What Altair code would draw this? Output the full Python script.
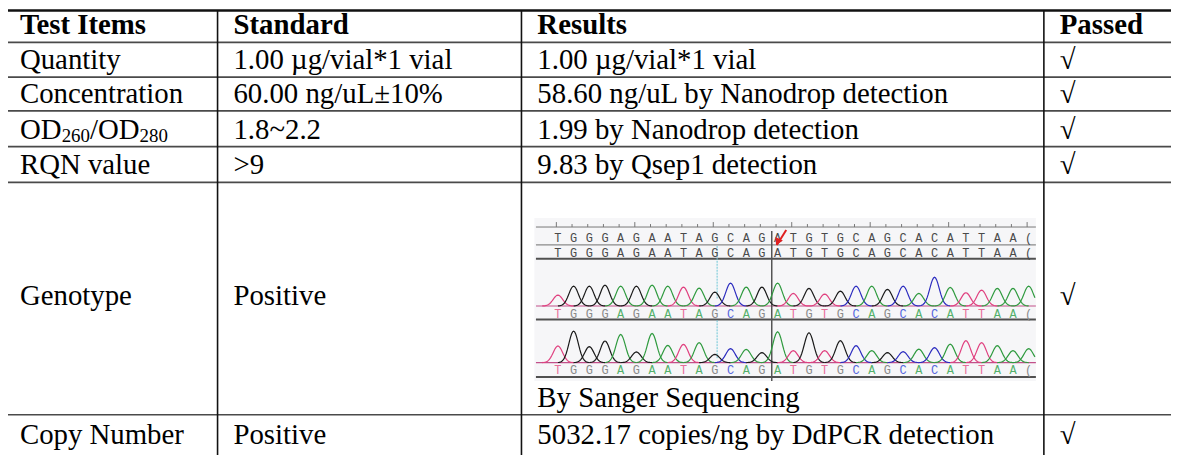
import altair as alt
import pandas as pd
import numpy as np

# ------------------------------------------------------------------ data
HEADERS = ["Test Items", "Standard", "Results", "Passed"]
TEST_ITEMS = ["Quantity", "Concentration", "OD260/OD280", "RQN value", "Genotype", "Copy Number"]
STANDARDS = ["1.00 µg/vial*1 vial", "60.00 ng/uL±10%", "1.8~2.2", ">9", "Positive", "Positive"]
RESULTS = ["1.00 µg/vial*1 vial", "58.60 ng/uL by Nanodrop detection",
           "1.99 by Nanodrop detection", "9.83 by Qsep1 detection",
           "By Sanger Sequencing", "5032.17 copies/ng by DdPCR detection"]
PASSED = ["√", "√", "√", "√", "√", "√"]
OD_PARTS = ["OD", "260", "/OD", "280"]

# Sanger chromatogram
REFERENCE_SEQ = list("TGGGAGAATAGCAGATGTGCAGCACATTAA")
SAMPLE_SEQ = list("TGGGAGAATAGCAGATGTGCAGCACATTAA")
TRACE_1 = [11, 20, 20, 21, 20, 20, 21, 20, 19, 18, 14, 23, 19, 19, 23,
           12.7, 17.7, 12, 15, 20, 20, 16.7, 20, 12.7, 29, 18.7, 13.3, 16, 17.7, 17.7]
TRACE_2 = [16.7, 31.7, 16, 21.7, 28.3, 10.7, 29.3, 17.3, 18.3, 20, 8.3, 14, 13.3, 10, 31,
           12, 30, 12, 22, 17, 12, 10, 11, 13.5, 15, 18.5, 22, 20, 17, 12]
TAIL_BASE = "A"          # base cut off at the right edge of the picture
TAIL_HEIGHTS = [20, 14]

# ------------------------------------------------------------------ layout
FONT = "Liberation Serif, Times New Roman, serif"
FS = 29
W, H = 1171, 447
OX, OY = 8, 8
COL_EDGES = [4, 219, 525, 1051, 1179]
ROW_EDGES = [5, 41, 76, 110, 146, 182, 416, 453, 480]
XR = [c - OX for c in COL_EDGES]
YR = [max(r - OY, 1) for r in ROW_EDGES]


def gx():
    return alt.Scale(domain=list(range(len(XR))), range=XR, zero=False, nice=False)


def gy():
    return alt.Scale(domain=list(range(len(YR))), range=YR, zero=False, nice=False)


N = len(SAMPLE_SEQ)
X0_REF, STEP = 561.7, 15.8
CXR = [X0_REF - OX, X0_REF - OX + N * STEP]
IMG_TOP = 218 - OY
IMG_H = 164


def cx():
    return alt.Scale(domain=[0, N], range=CXR, zero=False, nice=False)


def iy():
    return alt.Scale(domain=[0, IMG_H], range=[IMG_TOP, IMG_TOP + IMG_H], zero=False, nice=False)


def ty(baseline_img):
    b = IMG_TOP + baseline_img
    return alt.Scale(domain=[0, 30], range=[b, b - 30], zero=False, nice=False)


NOAX = dict(axis=None)
layers = []

# ------------------------------------------------------------------ table lines
h_df = pd.DataFrame({"edge": list(range(1, 7)), "a": 0, "b": 4})
layers.append(alt.Chart(h_df).mark_rule(color="#4a4a4a", strokeWidth=1.7).encode(
    x=alt.X("a:Q", scale=gx(), **NOAX), x2="b:Q", y=alt.Y("edge:Q", scale=gy(), **NOAX)))
top_df = pd.DataFrame({"edge": [0], "a": [0], "b": [4]})
layers.append(alt.Chart(top_df).mark_rule(color="#111", strokeWidth=2.4).encode(
    x=alt.X("a:Q", scale=gx(), **NOAX), x2="b:Q", y=alt.Y("edge:Q", scale=gy(), **NOAX)))
v_df = pd.DataFrame({"col": [1, 2, 3], "a": 0, "b": 8})
layers.append(alt.Chart(v_df).mark_rule(color="#111", strokeWidth=1.6).encode(
    x=alt.X("col:Q", scale=gx(), **NOAX), y=alt.Y("a:Q", scale=gy(), **NOAX), y2="b:Q"))

# ------------------------------------------------------------------ table text
head_df = pd.DataFrame({"col": [0, 1, 2, 3], "edge": 1, "label": HEADERS})
layers.append(alt.Chart(head_df).mark_text(
    align="left", baseline="alphabetic", dx=16, dy=-8, font=FONT, fontSize=FS,
    fontWeight="bold", color="black").encode(
    x=alt.X("col:Q", scale=gx(), **NOAX), y=alt.Y("edge:Q", scale=gy(), **NOAX), text="label:N"))

body, mid = [], []
for i in range(len(TEST_ITEMS)):
    r = i + 1
    cells = [TEST_ITEMS[i], STANDARDS[i], RESULTS[i], PASSED[i]]
    for c, t in enumerate(cells):
        if r == 3 and c == 0:
            continue
        rec = {"col": c, "edge": r + 1, "label": t}
        if r == 5 and c != 2:
            mid.append(rec)
        else:
            body.append(rec)

layers.append(alt.Chart(pd.DataFrame(body)).mark_text(
    align="left", baseline="alphabetic", dx=16, dy=-8, font=FONT, fontSize=FS, color="black").encode(
    x=alt.X("col:Q", scale=gx(), **NOAX), y=alt.Y("edge:Q", scale=gy(), **NOAX), text="label:N"))
layers.append(alt.Chart(pd.DataFrame(mid)).mark_text(
    align="left", baseline="alphabetic", dx=16, dy=-110, font=FONT, fontSize=FS, color="black").encode(
    x=alt.X("col:Q", scale=gx(), **NOAX), y=alt.Y("edge:Q", scale=gy(), **NOAX), text="label:N"))

OD_DX = [16, 58, 86.5, 136.5]
OD_FS = [FS, 19, FS, 19]
OD_DY = [-8, -5, -8, -5]
for part, dx, fs, dy in zip(OD_PARTS, OD_DX, OD_FS, OD_DY):
    d = pd.DataFrame({"col": [0], "edge": [4], "label": [part]})
    layers.append(alt.Chart(d).mark_text(
        align="left", baseline="alphabetic", dx=dx, dy=dy, font=FONT, fontSize=fs, color="black").encode(
        x=alt.X("col:Q", scale=gx(), **NOAX), y=alt.Y("edge:Q", scale=gy(), **NOAX), text="label:N"))

# ------------------------------------------------------------------ chromatogram picture
bg = pd.DataFrame({"a": [-1.5], "b": [30.46], "c": [0], "d": [IMG_H]})
layers.append(alt.Chart(bg).mark_rect(color="#f6f6f8").encode(
    x=alt.X("a:Q", scale=cx(), **NOAX), x2="b:Q", y=alt.Y("c:Q", scale=iy(), **NOAX), y2="d:Q"))

# ruler and ticks
ruler = pd.DataFrame({"a": [-1.4], "b": [30.46], "y": [9]})
layers.append(alt.Chart(ruler).mark_rule(color="#777", strokeWidth=1).encode(
    x=alt.X("a:Q", scale=cx(), **NOAX), x2="b:Q", y=alt.Y("y:Q", scale=iy(), **NOAX)))
tk = pd.DataFrame({"i": [k - 0.1 for k in range(N + 1)],
                   "y0": [4 if k % 5 == 0 else 6 for k in range(N + 1)], "y1": 9})
layers.append(alt.Chart(tk).mark_rule(color="#777", strokeWidth=1).encode(
    x=alt.X("i:Q", scale=cx(), **NOAX), y=alt.Y("y0:Q", scale=iy(), **NOAX), y2="y1:Q"))

# horizontal lines of the picture
pl = pd.DataFrame({"a": -1.4, "b": 30.46, "y": [27, 41, 102, 160], "w": ["t", "k", "k", "k"]})
layers.append(alt.Chart(pl[pl.w == "t"]).mark_rule(color="#8a8a8a", strokeWidth=1.3).encode(
    x=alt.X("a:Q", scale=cx(), **NOAX), x2="b:Q", y=alt.Y("y:Q", scale=iy(), **NOAX)))
layers.append(alt.Chart(pl[pl.w == "k"]).mark_rule(color="#505050", strokeWidth=2).encode(
    x=alt.X("a:Q", scale=cx(), **NOAX), x2="b:Q", y=alt.Y("y:Q", scale=iy(), **NOAX)))
base_lines = pd.DataFrame({"a": -1.4, "b": 30.46, "y": [88.5, 145.5]})
layers.append(alt.Chart(base_lines).mark_rule(color="#c2508a", strokeWidth=1.2).encode(
    x=alt.X("a:Q", scale=cx(), **NOAX), x2="b:Q", y=alt.Y("y:Q", scale=iy(), **NOAX)))

# marker lines
vm = pd.DataFrame({"x": [(777 - X0_REF) / STEP], "a": [13], "b": [IMG_H]})
layers.append(alt.Chart(vm).mark_rule(color="#555", strokeWidth=1.5).encode(
    x=alt.X("x:Q", scale=cx(), **NOAX), y=alt.Y("a:Q", scale=iy(), **NOAX), y2="b:Q"))
cy_df = pd.DataFrame({"x": (722 - X0_REF) / STEP, "a": [28, 103], "b": [82, 142]})
layers.append(alt.Chart(cy_df).mark_rule(color="#6cc6d6", strokeWidth=1, strokeDash=[2, 1]).encode(
    x=alt.X("x:Q", scale=cx(), **NOAX), y=alt.Y("a:Q", scale=iy(), **NOAX), y2="b:Q"))

# letters
A_COL = {"A": "#2e9a3e", "C": "#2b2bbf", "G": "#1a1a1a", "T": "#e0407f"}
L_COL = {"A": "#53b06a", "C": "#5566dd", "G": "#8a8a8a", "T": "#e86d9a"}
rows_gray = []
for k, b in enumerate(REFERENCE_SEQ + ["("]):
    rows_gray.append({"i": k, "y": 20, "label": b})
for k, b in enumerate(SAMPLE_SEQ + ["("]):
    rows_gray.append({"i": k, "y": 35, "label": b})
layers.append(alt.Chart(pd.DataFrame(rows_gray)).mark_text(
    font="Liberation Mono", fontSize=12, baseline="middle", align="center", color="#4a4a4a").encode(
    x=alt.X("i:Q", scale=cx(), **NOAX), y=alt.Y("y:Q", scale=iy(), **NOAX), text="label:N"))
rows_col = []
for yy in (97, 153):
    for k, b in enumerate(SAMPLE_SEQ + ["("]):
        rows_col.append({"i": k, "y": yy, "label": b, "base": b if b in L_COL else "G"})
layers.append(alt.Chart(pd.DataFrame(rows_col)).mark_text(
    font="Liberation Mono", fontSize=12, baseline="middle", align="center").encode(
    x=alt.X("i:Q", scale=cx(), **NOAX), y=alt.Y("y:Q", scale=iy(), **NOAX), text="label:N",
    color=alt.Color("base:N", scale=alt.Scale(domain=list(L_COL), range=list(L_COL.values())), legend=None)))

# red arrow
arr = pd.DataFrame({"a": [14.55], "b": [13.95], "c": [12], "d": [27]})
layers.append(alt.Chart(arr).mark_rule(color="#e02020", strokeWidth=2).encode(
    x=alt.X("a:Q", scale=cx(), **NOAX), x2="b:Q", y=alt.Y("c:Q", scale=iy(), **NOAX), y2="d:Q"))
head_pt = pd.DataFrame({"x": [14.0], "y": [24]})
layers.append(alt.Chart(head_pt).mark_point(shape="triangle-up", filled=True, size=70, angle=205,
                                             color="#e02020", opacity=1).encode(
    x=alt.X("x:Q", scale=cx(), **NOAX), y=alt.Y("y:Q", scale=iy(), **NOAX)))

# traces
ts = np.linspace(-1, 1, 31)
for tr, (heights, baseline) in enumerate([(TRACE_1, 88.5), (TRACE_2, 145.5)]):
    pts = []
    seq = SAMPLE_SEQ + [TAIL_BASE]
    hs = heights + [TAIL_HEIGHTS[tr]]
    for k, (h, b) in enumerate(zip(hs, seq)):
        for t in ts:
            xx = k + t
            if xx > 30.42 or xx < -1.3:
                continue
            pts.append({"x": xx, "y": h * np.exp(-0.5 * (t / 0.3) ** 2), "pid": k, "base": b})
    layers.append(alt.Chart(pd.DataFrame(pts)).mark_line(strokeWidth=1.2).encode(
        x=alt.X("x:Q", scale=cx(), **NOAX), y=alt.Y("y:Q", scale=ty(baseline), **NOAX),
        detail="pid:N",
        color=alt.Color("base:N", scale=alt.Scale(domain=list(A_COL), range=list(A_COL.values())), legend=None)))

chart = alt.layer(*layers).properties(
    width=W, height=H, autosize=alt.AutoSizeParams(type="none"), padding=0
).resolve_scale(x="independent", y="independent", color="independent").configure_view(strokeWidth=0)

chart.save("out.html", embed_options={"renderer": "svg", "actions": False})
